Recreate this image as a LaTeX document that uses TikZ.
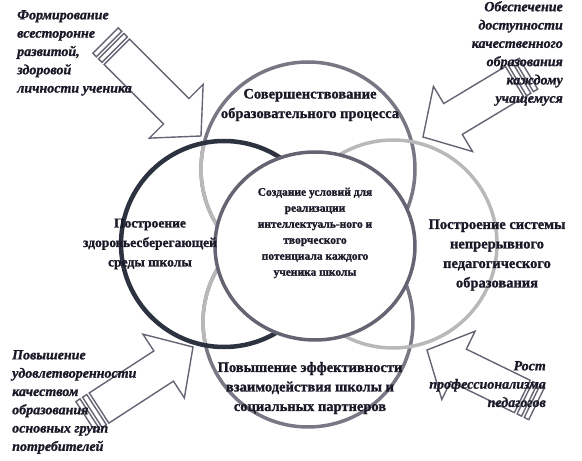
\documentclass[tikz,border=0pt]{standalone}
\usepackage{fontspec}
\setmainfont{Liberation Serif}[BoldFeatures={FakeBold=1.2}, BoldItalicFeatures={FakeBold=1.2}]
\usetikzlibrary{shapes.geometric}

\definecolor{ink}{RGB}{25,25,40}
\definecolor{ringdark}{RGB}{45,50,65}
\definecolor{ringmid}{RGB}{120,120,132}
\definecolor{ringcore}{RGB}{100,100,115}
\definecolor{ringlight}{RGB}{185,185,188}
\definecolor{arrgray}{RGB}{100,100,115}

\begin{document}
\begin{tikzpicture}[x=1pt, y=1pt,
    ring/.style={circle, draw=#1, line width=3.5pt, inner sep=0pt, outer sep=0pt},
    lightarc/.style={draw=ringlight, line width=3.5pt},
    lbl/.style={font=\bfseries\fontsize{14.5}{19.5}\selectfont, text=ink, align=center, inner sep=0pt},
    small/.style={font=\bfseries\fontsize{11.5}{16}\selectfont, text=ink, align=center, inner sep=0pt},
    goal/.style={font=\bfseries\itshape\fontsize{14}{18.3}\selectfont, text=ink, inner sep=0pt},
    arrline/.style={draw=arrgray, line width=1.4pt, line join=miter},
    bigarrow/.pic={
        \draw [arrline] (0,0) -- (-35,38) -- (-35,18) -- (-#1,18) -- (-#1,-18) -- (-35,-18) -- (-35,-38) -- cycle;
        \draw [arrline] (-#1-3,18) rectangle (-#1-8,-18);
        \draw [arrline] (-#1-11,18) rectangle (-#1-16,-18);
    }]
    \useasboundingbox (0,0) rectangle (582,461);

    \node [ring=ringmid, minimum size=214pt] (top) at (308,292) {};
    \draw [lightarc] (top.165) arc [start angle=165, end angle=250, radius=107pt];
    \node [ring=ringmid, minimum size=210pt] (bot) at (308,139) {};
    \draw [lightarc] (bot.100) arc [start angle=100, end angle=193, radius=105pt];
    \node [ring=ringlight, minimum size=208pt] (rt) at (393,217) {};
    \node [ring=ringdark, line width=4.5pt, minimum size=206pt] (lt) at (224,217) {};
    \node [ellipse, draw=ringcore, line width=3.5pt, fill=white, inner sep=0pt, outer sep=0pt,
        minimum width=200pt, minimum height=188pt] (core) at (315,215) {};

    \pic [rotate=-45] at (201,325) {bigarrow=119};
    \pic [rotate=211] at (423,324) {bigarrow=107};
    \pic [rotate=33] at (193,114) {bigarrow=112};
    \pic [rotate=154] at (427,111) {bigarrow=106};

    \node [lbl] (ttop) at (310,356) {Совершенствование\\образовательного процесса};
    \node [small] (tcore) at (315,228) {Создание условий для\\реализации\\интеллектуаль-ного и\\творческого\\потенциала каждого\\ученика школы};
    \node [lbl, font=\bfseries\fontsize{13.5}{19.5}\selectfont] (tlt) at (150,217) {Построение\\здоровьесберегающей\\среды школы};
    \node [lbl] (trt) at (497,206) {Построение системы\\непрерывного\\педагогического\\образования};
    \node [lbl] (tbot) at (310,73) {Повышение эффективности\\взаимодействия школы и\\социальных партнеров};

    \node [goal, anchor=north west, align=left] (gtl) at (17,451) {Формирование\\всесторонне\\развитой,\\здоровой\\личности ученика};
    \node [goal, anchor=north east, align=right] (gtr) at (563,460) {Обеспечение\\доступности\\качественного\\образования\\каждому\\учащемуся};
    \node [goal, anchor=north west, align=left] (gbl) at (12,111) {Повышение\\удовлетворенности\\качеством\\образования\\основных групп\\потребителей};
    \node [goal, anchor=north east, align=right] (gbr) at (546,100) {Рост\\профессионализма\\педагогов};
\end{tikzpicture}
\end{document}
